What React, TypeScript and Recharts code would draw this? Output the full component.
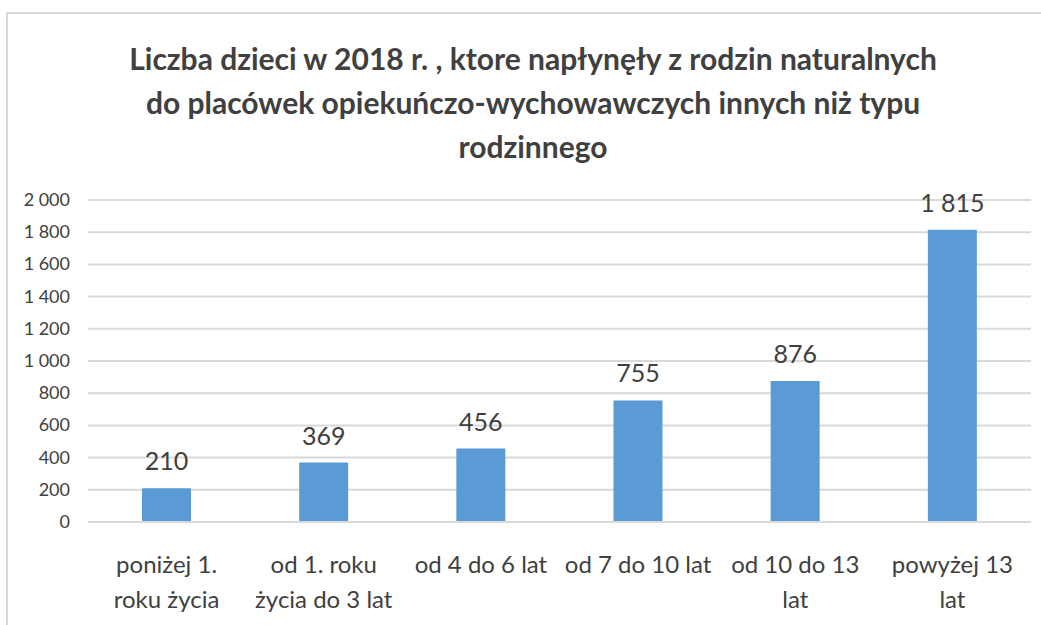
import { BarChart, Bar, XAxis, YAxis, CartesianGrid, LabelList } from 'recharts';

const categories = [
  'poniżej 1.\nroku życia',
  'od 1. roku\nżycia do 3 lat',
  'od 4 do 6 lat',
  'od 7 do 10 lat',
  'od 10 do 13\nlat',
  'powyżej 13\nlat',
];
const values = [210, 369, 456, 755, 876, 1815];
const yTicks = [0, 200, 400, 600, 800, 1000, 1200, 1400, 1600, 1800, 2000];
const titleLines = [
  'Liczba dzieci w 2018 r. , ktore napłynęły z rodzin naturalnych',
  'do placówek opiekuńczo-wychowawczych innych niż typu',
  'rodzinnego',
];

const data = categories.map((name, i) => ({ name, value: values[i] }));

const FONT = 'Lato, "Open Sans", sans-serif';
const TEXT = '#404040';

const fmt = (v: number) => {
  const s = String(v);
  return s.length > 3 ? s.slice(0, -3) + ' ' + s.slice(-3) : s;
};

function CatTick(props: any) {
  const { x, y, payload } = props;
  const lines = String(payload.value).split('\n');
  return (
    <text x={x} y={y} textAnchor="middle" fill={TEXT} fontFamily={FONT} fontSize={24}>
      {lines.map((l, i) => (
        <tspan key={i} x={x} dy={i === 0 ? 43 : 35}>
          {l}
        </tspan>
      ))}
    </text>
  );
}

function ValTick(props: any) {
  const { y, payload } = props;
  return (
    <text x={70} y={y} dy={6} textAnchor="end" fill={TEXT} fontFamily={FONT} fontSize={18}>
      {fmt(payload.value)}
    </text>
  );
}

export default function App() {
  return (
    <div style={{ position: 'absolute', left: 0, top: 0, width: 1041, height: 625, background: '#fff', overflow: 'hidden' }}>
      <div
        style={{
          position: 'absolute',
          left: 6,
          top: 12,
          width: 1100,
          height: 700,
          borderLeft: '2px solid #d9d9d9',
          borderTop: '2px solid #d9d9d9',
        }}
      />
      <div
        style={{
          position: 'absolute',
          left: 33,
          width: 1000,
          top: 36,
          textAlign: 'center',
          fontFamily: FONT,
          fontWeight: 'bold',
          fontSize: 30,
          lineHeight: '44px',
          color: TEXT,
        }}
      >
        {titleLines.map((t, i) => (
          <div key={i}>{t}</div>
        ))}
      </div>
      <div style={{ position: 'absolute', left: 0, top: 0 }}>
        <BarChart width={1041} height={625} data={data} margin={{ top: 200, right: 10, left: 0, bottom: 0 }}>
          <CartesianGrid vertical={false} stroke="#d9d9d9" strokeWidth={2} />
          <XAxis
            dataKey="name"
            height={103}
            axisLine={{ stroke: '#d9d9d9', strokeWidth: 2 }}
            tickLine={false}
            tick={<CatTick />}
            interval={0}
          />
          <YAxis
            width={88}
            domain={[0, 2000]}
            ticks={yTicks}
            axisLine={false}
            tickLine={false}
            tick={<ValTick />}
          />
          <Bar dataKey="value" fill="#5b9bd5" barSize={49} isAnimationActive={false}>
            <LabelList
              dataKey="value"
              position="top"
              offset={18}
              formatter={(v: any) => fmt(Number(v))}
              style={{ fill: TEXT, fontFamily: FONT, fontSize: 25 }}
            />
          </Bar>
        </BarChart>
      </div>
    </div>
  );
}
